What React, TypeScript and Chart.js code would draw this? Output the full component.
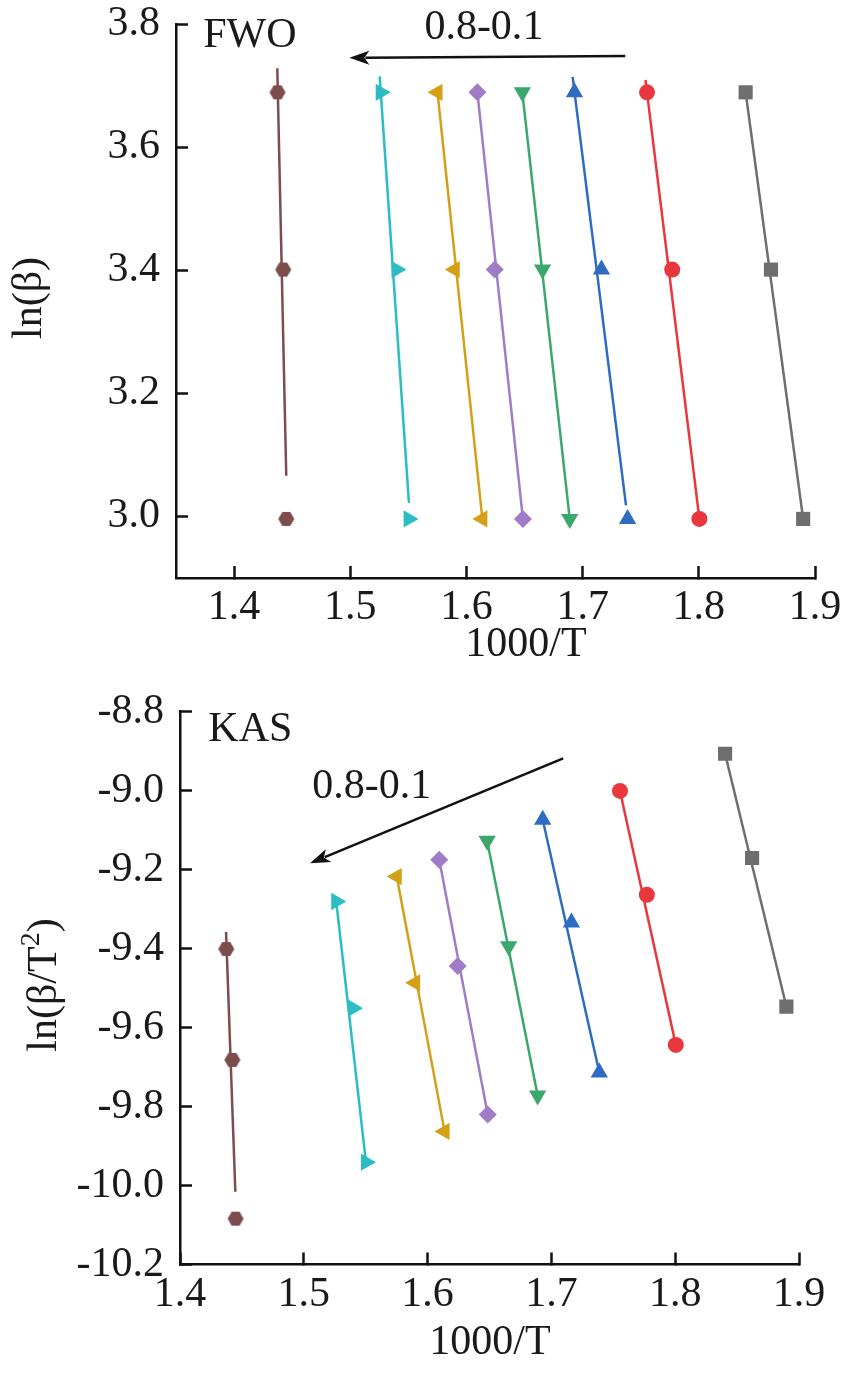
import React, { useEffect, useRef } from 'react';
import { Chart, registerables } from 'chart.js';

Chart.register(...registerables);

// ---------- data ----------
// conversion levels (alpha), right to left
const alphaLevels = ['0.1', '0.2', '0.3', '0.4', '0.5', '0.6', '0.7', '0.8'];
// ln(beta) for heating rates 40, 30, 20 K/min
const lnBeta = [3.689, 3.401, 2.996];

// 1000/T for each conversion level (beta = 40, 30, 20)
const x01 = [1.8403, 1.8621, 1.8898];
const x02 = [1.7554, 1.7771, 1.8005];
const x03 = [1.693, 1.7162, 1.7387];
const x04 = [1.6481, 1.6655, 1.6889];
const x05 = [1.6094, 1.6243, 1.6486];
const x06 = [1.5751, 1.5899, 1.6137];
const x07 = [1.5262, 1.5398, 1.5502];
const x08 = [1.4374, 1.4423, 1.4449];

// ln(beta/T^2) for each conversion level (beta = 40, 30, 20)
const kas01 = [-8.907, -9.171, -9.547];
const kas02 = [-9.001, -9.264, -9.644];
const kas03 = [-9.074, -9.334, -9.714];
const kas04 = [-9.127, -9.394, -9.772];
const kas05 = [-9.175, -9.444, -9.82];
const kas06 = [-9.218, -9.487, -9.863];
const kas07 = [-9.281, -9.551, -9.941];
const kas08 = [-9.401, -9.682, -10.084];

// fitted line end points [x, y]
const fwoFit01 = [[1.8403, 3.689], [1.8898, 2.996]];
const fwoFit02 = [[1.7541, 3.709], [1.8005, 2.996]];
const fwoFit03 = [[1.6914, 3.714], [1.7373, 3.018]];
const fwoFit04 = [[1.6481, 3.689], [1.6889, 2.996]];
const fwoFit05 = [[1.6094, 3.689], [1.6486, 2.996]];
const fwoFit06 = [[1.5751, 3.689], [1.6137, 2.996]];
const fwoFit07 = [[1.5253, 3.715], [1.5505, 3.022]];
const fwoFit08 = [[1.4372, 3.728], [1.4449, 3.066]];

const kasFit01 = [[1.8403, -8.907], [1.8898, -9.547]];
const kasFit02 = [[1.7554, -9.001], [1.8005, -9.644]];
const kasFit03 = [[1.693, -9.074], [1.7387, -9.714]];
const kasFit04 = [[1.6481, -9.127], [1.6889, -9.772]];
const kasFit05 = [[1.6094, -9.175], [1.6486, -9.82]];
const kasFit06 = [[1.5751, -9.218], [1.6137, -9.863]];
const kasFit07 = [[1.5262, -9.281], [1.5502, -9.941]];
const kasFit08 = [[1.4372, -9.358], [1.4447, -10.016]];

// ticks
const fwoXTicks = [1.4, 1.5, 1.6, 1.7, 1.8, 1.9];
const fwoYTicks = [3.0, 3.2, 3.4, 3.6, 3.8];
const kasXTicks = [1.4, 1.5, 1.6, 1.7, 1.8, 1.9];
const kasYTicks = [-8.8, -9.0, -9.2, -9.4, -9.6, -9.8, -10.0, -10.2];

// ---------- styles ----------
const FONT = "'Liberation Serif', 'Times New Roman', serif";
const FS = 42;
const seriesStyles = [
  { color: '#6e6e6e', point: 'rect', rot: 0, r: 10 },
  { color: '#e8383d', point: 'circle', rot: 0, r: 8 },
  { color: '#2d6cc0', point: 'triangle', rot: 0, r: 10 },
  { color: '#3aa86c', point: 'triangle', rot: 180, r: 10 },
  { color: '#a07cc6', point: 'rectRot', rot: 0, r: 9 },
  { color: '#d4a015', point: 'triangle', rot: 270, r: 10 },
  { color: '#2bbcc6', point: 'triangle', rot: 90, r: 10 },
  { color: '#7d4d4d', point: 'hex', rot: 0, r: 8 },
];

function hexagon(color: string, r: number) {
  const c = document.createElement('canvas');
  const s = Math.ceil(r * 2) + 2;
  c.width = s;
  c.height = s;
  const ctx = c.getContext('2d')!;
  ctx.fillStyle = color;
  ctx.beginPath();
  for (let i = 0; i < 6; i++) {
    const a = (Math.PI / 3) * i;
    const px = s / 2 + r * Math.cos(a);
    const py = s / 2 + r * Math.sin(a);
    if (i === 0) ctx.moveTo(px, py);
    else ctx.lineTo(px, py);
  }
  ctx.closePath();
  ctx.fill();
  return c;
}

function buildDatasets(xs: number[][], ys: number[][], fits: number[][][]) {
  const ds: any[] = [];
  xs.forEach((xArr, i) => {
    const st = seriesStyles[i];
    ds.push({
      label: alphaLevels[i],
      data: xArr.map((x, j) => ({ x, y: ys[i][j] })),
      showLine: false,
      pointStyle: st.point === 'hex' ? hexagon(st.color, st.r) : st.point,
      pointRotation: st.rot,
      pointRadius: st.r,
      pointHoverRadius: st.r,
      backgroundColor: st.color,
      borderColor: st.color,
      borderWidth: 0,
      order: 0,
    });
    ds.push({
      label: alphaLevels[i] + ' fit',
      data: fits[i].map(([x, y]) => ({ x, y })),
      showLine: true,
      borderColor: st.color,
      borderWidth: 2.5,
      pointRadius: 0,
      pointHoverRadius: 0,
      fill: false,
      order: 1,
    });
  });
  return ds;
}

function drawArrow(ctx: CanvasRenderingContext2D, x1: number, y1: number, x2: number, y2: number) {
  const ang = Math.atan2(y2 - y1, x2 - x1);
  const hl = 20;
  const hw = 7;
  ctx.save();
  ctx.strokeStyle = '#111';
  ctx.fillStyle = '#111';
  ctx.lineWidth = 2.5;
  ctx.beginPath();
  ctx.moveTo(x1, y1);
  ctx.lineTo(x2 - Math.cos(ang) * hl * 0.8, y2 - Math.sin(ang) * hl * 0.8);
  ctx.stroke();
  ctx.beginPath();
  ctx.moveTo(x2, y2);
  ctx.lineTo(x2 - Math.cos(ang) * hl + Math.sin(ang) * hw, y2 - Math.sin(ang) * hl - Math.cos(ang) * hw);
  ctx.lineTo(x2 - Math.cos(ang) * hl * 0.75, y2 - Math.sin(ang) * hl * 0.75);
  ctx.lineTo(x2 - Math.cos(ang) * hl - Math.sin(ang) * hw, y2 - Math.sin(ang) * hl + Math.cos(ang) * hw);
  ctx.closePath();
  ctx.fill();
  ctx.restore();
}

const annotPlugin = {
  id: 'annot',
  afterDraw(chart: any, _args: any, opts: any) {
    const { ctx } = chart;
    const xs = chart.scales.x;
    const ys = chart.scales.y;
    ctx.save();
    ctx.fillStyle = '#1a1a1a';
    ctx.font = `${FS}px ${FONT}`;
    ctx.textBaseline = 'middle';
    // method label
    ctx.textAlign = 'left';
    ctx.fillText(opts.method.text, xs.getPixelForValue(opts.method.x), ys.getPixelForValue(opts.method.y));
    // range label
    ctx.textAlign = 'center';
    ctx.fillText(opts.range.text, xs.getPixelForValue(opts.range.x), ys.getPixelForValue(opts.range.y));
    // arrow
    drawArrow(
      ctx,
      xs.getPixelForValue(opts.arrow.x1),
      ys.getPixelForValue(opts.arrow.y1),
      xs.getPixelForValue(opts.arrow.x2),
      ys.getPixelForValue(opts.arrow.y2)
    );
    // x title
    ctx.textAlign = 'center';
    ctx.fillText('1000/T', opts.xTitle.cx, opts.xTitle.cy);
    // y title (rotated)
    ctx.translate(opts.yTitle.cx, opts.yTitle.cy);
    ctx.rotate(-Math.PI / 2);
    const parts = opts.yTitle.parts as { t: string; sup?: boolean }[];
    const mainFont = `${FS}px ${FONT}`;
    const supFont = `28px ${FONT}`;
    let total = 0;
    parts.forEach((p) => {
      ctx.font = p.sup ? supFont : mainFont;
      total += ctx.measureText(p.t).width;
    });
    let cx = -total / 2;
    ctx.textAlign = 'left';
    parts.forEach((p) => {
      ctx.font = p.sup ? supFont : mainFont;
      ctx.fillText(p.t, cx, p.sup ? -13 : 0);
      cx += ctx.measureText(p.t).width;
    });
    ctx.restore();
  },
};

function axisOptions(min: number, max: number, tickVals: number[], isX: boolean, fixedSize: number, padding: number) {
  return {
    type: 'linear',
    min,
    max,
    afterBuildTicks: (scale: any) => {
      scale.ticks = tickVals.map((v) => ({ value: v }));
    },
    afterFit: (scale: any) => {
      if (isX) scale.height = fixedSize;
      else scale.width = fixedSize;
      scale.paddingTop = 0;
      scale.paddingBottom = 0;
      scale.paddingLeft = 0;
      scale.paddingRight = 0;
    },
    border: { display: true, color: '#111', width: 2.5 },
    grid: {
      drawOnChartArea: false,
      drawTicks: true,
      tickLength: -12,
      tickWidth: 2.5,
      tickColor: '#111',
    },
    ticks: {
      autoSkip: false,
      maxRotation: 0,
      minRotation: 0,
      padding,
      color: '#1a1a1a',
      font: { family: FONT, size: FS, lineHeight: 1 },
      callback: (v: any) => Number(v).toFixed(1),
    },
  };
}

function makeChart(canvas: HTMLCanvasElement, cfg: any) {
  return new Chart(canvas, {
    type: 'scatter',
    data: { datasets: cfg.datasets },
    options: {
      responsive: false,
      animation: false,
      devicePixelRatio: 1,
      layout: { padding: cfg.padding },
      plugins: {
        legend: { display: false },
        tooltip: { enabled: false },
        annot: cfg.annot,
      } as any,
      scales: {
        x: axisOptions(cfg.xMin, cfg.xMax, cfg.xTicks, true, 90, 21) as any,
        y: axisOptions(cfg.yMin, cfg.yMax, cfg.yTicks, false, 120, 28) as any,
      },
    },
    plugins: [annotPlugin as any],
  });
}

export default function App() {
  const topRef = useRef<HTMLCanvasElement>(null);
  const botRef = useRef<HTMLCanvasElement>(null);

  useEffect(() => {
    const xsAll = [x01, x02, x03, x04, x05, x06, x07, x08];
    const fwoY = xsAll.map(() => lnBeta);
    const kasY = [kas01, kas02, kas03, kas04, kas05, kas06, kas07, kas08];
    const fwoFits = [fwoFit01, fwoFit02, fwoFit03, fwoFit04, fwoFit05, fwoFit06, fwoFit07, fwoFit08];
    const kasFits = [kasFit01, kasFit02, kasFit03, kasFit04, kasFit05, kasFit06, kasFit07, kasFit08];

    const c1 = makeChart(topRef.current!, {
      datasets: buildDatasets(xsAll, fwoY, fwoFits),
      padding: { left: 56, top: 24, right: 31, bottom: 12 },
      xMin: 1.35,
      xMax: 1.9,
      xTicks: fwoXTicks,
      yMin: 2.9,
      yMax: 3.8,
      yTicks: fwoYTicks,
      annot: {
        method: { text: 'FWO', x: 1.3734, y: 3.78 },
        range: { text: '0.8-0.1', x: 1.615, y: 3.793 },
        arrow: { x1: 1.7367, y1: 3.748, x2: 1.4992, y2: 3.745 },
        xTitle: { cx: 526, cy: 645 },
        yTitle: { cx: 30, cy: 298, parts: [{ t: 'ln(β)' }] },
      },
    });
    const c2 = makeChart(botRef.current!, {
      datasets: buildDatasets(xsAll, kasY, kasFits),
      padding: { left: 60, top: 31.5, right: 47, bottom: 19.5 },
      xMin: 1.4,
      xMax: 1.9,
      xTicks: kasXTicks,
      yMin: -10.2,
      yMax: -8.8,
      yTicks: kasYTicks,
      annot: {
        method: { text: 'KAS', x: 1.4229, y: -8.846 },
        range: { text: '0.8-0.1', x: 1.5548, y: -8.99 },
        arrow: { x1: 1.7095, y1: -8.9185, x2: 1.505, y2: -9.1843 },
        xTitle: { cx: 490, cy: 663 },
        yTitle: { cx: 45, cy: 305, parts: [{ t: 'ln(β/T' }, { t: '2', sup: true }, { t: ')' }] },
      },
    });
    return () => {
      c1.destroy();
      c2.destroy();
    };
  }, []);

  return (
    <div style={{ position: 'fixed', left: 0, top: 0, width: 846, height: 1374, background: '#fff' }}>
      <canvas ref={topRef} width={846} height={680} style={{ position: 'absolute', left: 0, top: 0, width: 846, height: 680 }} />
      <canvas ref={botRef} width={846} height={694} style={{ position: 'absolute', left: 0, top: 680, width: 846, height: 694 }} />
    </div>
  );
}
